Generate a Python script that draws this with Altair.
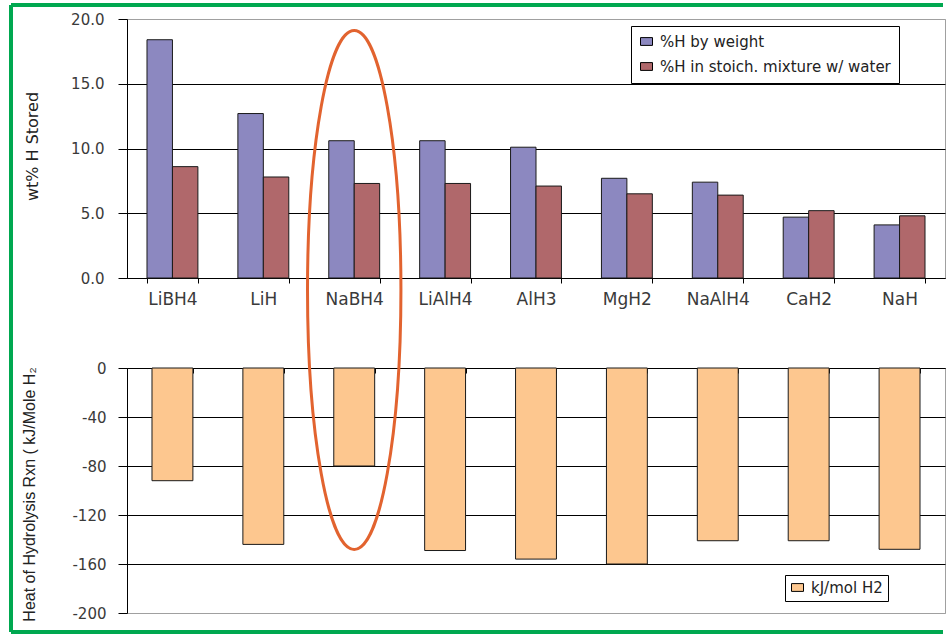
import altair as alt
import pandas as pd

# ---------------- data ----------------
compounds = ["LiBH4", "LiH", "NaBH4", "LiAlH4", "AlH3", "MgH2", "NaAlH4", "CaH2", "NaH"]
h_by_weight = [18.4, 12.7, 10.6, 10.6, 10.1, 7.7, 7.4, 4.7, 4.1]
h_stoich = [8.6, 7.8, 7.3, 7.3, 7.1, 6.5, 6.4, 5.2, 4.8]
heat_kj = [-92, -144, -80, -149, -156, -160, -141, -141, -148]
series_names = ["%H by weight", "%H in stoich. mixture w/ water"]
heat_name = "kJ/mol H2"
highlight = ["NaBH4"]
top_ticks = [0, 5, 10, 15, 20]
bottom_ticks = [-200, -160, -120, -80, -40, 0]

# ---------------- style ----------------
BLUE = "#8C88C0"
RED = "#B0686B"
ORANGE = "#FDC78F"
GREEN = "#00A850"
ELLIPSE = "#E2632F"
GRID = "#000000"
BORDER = "#A0A0A0"
EDGE = "#1A1A1A"
LABEL = "#3A3A3A"
W, H_TOP, H_BOT = 818, 259, 245

top_df = pd.DataFrame({
    "compound": compounds * 2,
    "series": [series_names[0]] * len(compounds) + [series_names[1]] * len(compounds),
    "value": h_by_weight + h_stoich,
})
bot_df = pd.DataFrame({"compound": compounds, "series": [heat_name] * len(compounds), "value": heat_kj})
one = pd.DataFrame({"k": [0]})

# ---------------- top panel ----------------
x_top = alt.X(
    "compound:N", sort=compounds, title=None,
    scale=alt.Scale(paddingInner=0.44, paddingOuter=0.22),
    axis=alt.Axis(labelAngle=0, labelFont="DejaVu Sans", labelFontSize=17, labelColor=LABEL,
                  labelPadding=8, tickBand="extent", tickSize=5, tickColor="#000",
                  domainColor="#000", grid=False),
)
y_top = alt.Y(
    "value:Q", title="wt% H Stored",
    scale=alt.Scale(domain=[0, 20], nice=False),
    axis=alt.Axis(values=top_ticks, format=".1f", labelFont="DejaVu Sans", labelFontSize=15,
                  labelColor=LABEL, labelPadding=14, tickSize=9, tickColor="#000",
                  domainColor="#000", grid=True,
                  gridColor={"condition": {"test": "datum.value === 20", "value": BORDER}, "value": GRID},
                  titleFont="DejaVu Sans", titleFontSize=16, titleFontWeight="normal", titleColor="#222",
                  titleX=-95, titleY=127, titleAngle=270, titleAlign="center", titleBaseline="middle"),
)
legend_top = alt.Legend(
    title=None, orient="none", legendX=504, legendY=7, padding=8, rowPadding=9,
    strokeColor="#000", fillColor="#fff", labelFont="DejaVu Sans", labelFontSize=15,
    labelColor="#222", labelOffset=6, labelLimit=500,
    symbolType="M-1,-0.65H1V0.65H-1Z", symbolSize=144, symbolStrokeColor="#000", symbolStrokeWidth=1,
)
bars_top = alt.Chart(top_df).mark_bar(stroke=EDGE, strokeWidth=1).encode(
    x=x_top,
    xOffset=alt.XOffset("series:N", sort=series_names),
    y=y_top,
    color=alt.Color("series:N", scale=alt.Scale(domain=series_names, range=[BLUE, RED]), legend=legend_top),
)

frame_base = alt.Chart(one).mark_rule(color=GREEN, strokeWidth=4)
frame_left = frame_base.encode(x=alt.value(-116), y=alt.value(-14), y2=alt.value(613))
frame_top = frame_base.encode(y=alt.value(-14), x=alt.value(-116), x2=alt.value(816))
frame_bottom = frame_base.encode(y=alt.value(613), x=alt.value(-116), x2=alt.value(816))

top = alt.layer(bars_top, frame_left, frame_top, frame_bottom).properties(width=W, height=H_TOP)

# ---------------- bottom panel ----------------
x_bot = alt.X(
    "compound:N", sort=compounds, title=None,
    scale=alt.Scale(paddingInner=0.55, paddingOuter=0.275),
    axis=alt.Axis(labels=False, orient="bottom", offset=-H_BOT, tickBand="extent", tickSize=5,
                  tickColor="#000", domainColor="#000", grid=False),
)
y_bot = alt.Y(
    "value:Q", title="Heat of Hydrolysis Rxn ( kJ/Mole H\u2082",
    scale=alt.Scale(domain=[-200, 0], nice=False),
    axis=alt.Axis(values=bottom_ticks, labelExpr="'' + datum.value", labelFont="DejaVu Sans",
                  labelFontSize=15, labelColor=LABEL, labelPadding=12, tickSize=9, tickColor="#000",
                  domainColor="#000", grid=True,
                  gridColor={"condition": {"test": "datum.value === -200", "value": BORDER}, "value": GRID},
                  titleFont="Liberation Sans", titleFontSize=16, titleFontWeight="normal", titleColor="#222",
                  titleX=-98, titleY=126, titleAngle=270, titleAlign="center", titleBaseline="middle"),
)
legend_bot = alt.Legend(
    title=None, orient="none", legendX=658, legendY=207, padding=5,
    strokeColor="#000", fillColor="#fff", labelFont="DejaVu Sans", labelFontSize=15,
    labelColor="#222", labelOffset=6, labelLimit=300,
    symbolType="M-1,-0.65H1V0.65H-1Z", symbolSize=144, symbolStrokeColor="#000", symbolStrokeWidth=1,
)
bars_bot = alt.Chart(bot_df).mark_bar(stroke=EDGE, strokeWidth=1).encode(
    x=x_bot,
    y=y_bot,
    color=alt.Color("series:N", scale=alt.Scale(domain=[heat_name], range=[ORANGE]), legend=legend_bot),
)

ELLIPSE_PATH = ("M0,-1C0.0994,-1,0.18,-0.5523,0.18,0C0.18,0.5523,0.0994,1,0,1"
                "C-0.0994,1,-0.18,0.5523,-0.18,0C-0.18,-0.5523,-0.0994,-1,0,-1Z")
ellipse = alt.Chart(bot_df).transform_filter(
    alt.FieldOneOfPredicate(field="compound", oneOf=highlight)
).mark_point(
    shape=ELLIPSE_PATH, size=269361, filled=False, stroke=ELLIPSE, color=ELLIPSE,
    strokeWidth=3, opacity=1,
).encode(x=x_bot, y=alt.value(-78))

bottom = alt.layer(bars_bot, ellipse).properties(width=W, height=H_BOT)

chart = (
    alt.vconcat(top, bottom, spacing=90, bounds="flush")
    .resolve_scale(x="independent", y="independent", color="independent")
    .resolve_legend(color="independent")
    .properties(padding={"left": 8, "top": 2, "right": 0, "bottom": 0}, background="white")
    .configure_view(stroke=BORDER, strokeWidth=1)
)

chart.save("out.html", embed_options={"renderer": "svg", "actions": False})
